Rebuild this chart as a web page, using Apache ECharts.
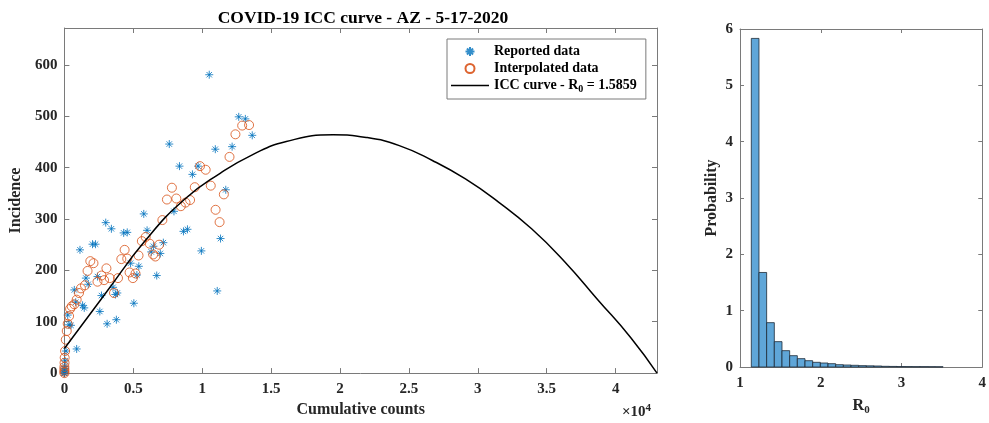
<!DOCTYPE html>
<html>
<head>
<meta charset="utf-8">
<script src="https://cdn.jsdelivr.net/npm/echarts@6/dist/echarts.min.js"></script>
<style>
  html, body { margin: 0; padding: 0; background: #fff; }
  #chart { width: 989px; height: 423px; }
</style>
</head>
<body>
<div id="chart"></div>
<script>
// Reported daily incidence vs. cumulative counts  [cumulative, incidence]
const reportedData = [
  [0,0],[0,0],[0,0],[0,0],[0,3],[10,6],[20,9],[30,13],[50,24],[120,43],[240,113],
  [340,94],[480,93],[720,162],[820,138],[890,47],[1130,240],[1320,132],[1440,127],
  [1560,185],[1730,173],[2040,251],[2260,251],[2400,188],[2570,120],[2690,151],
  [3000,293],[3100,96],[3410,281],[3530,167],[3700,153],[3770,104],[3840,156],
  [4300,273],[4560,274],[4800,214],[5040,136],[5260,191],[5400,208],[5760,310],
  [6000,278],[6300,236],[6460,247],[6700,190],[6960,233],[7180,254],[7610,446],
  [7950,315],[8350,403],[8640,276],[8930,280],[9290,387],[9700,403],[9940,238],
  [10510,581],[10950,436],[11090,160],[11330,262],[11710,357],[12170,441],
  [12650,499],[13130,495],[13630,463]
];

// Interpolated (smoothed) incidence  [cumulative, incidence]
const interpolatedData = [
  [0,0],[0,3],[0,7],[0,12],[10,20],[20,30],[50,43],[100,65],[170,82],[240,96],
  [340,111],[410,125],[530,130],[720,134],[890,143],[1060,156],[1200,165],
  [1490,171],[1680,199],[1880,218],[2110,214],[2400,178],[2690,190],[2880,181],
  [3050,204],[3290,185],[3600,156],[3890,185],[4130,222],[4370,240],[4560,223],
  [4730,196],[4970,185],[5160,194],[5380,229],[5620,257],[5900,265],[6190,252],
  [6440,231],[6600,227],[6870,250],[7110,298],[7440,338],[7800,361],[8120,340],
  [8450,325],[8790,332],[9120,337],[9460,362],[9840,403],[10250,396],[10620,365],
  [10970,318],[11260,294],[11570,348],[11980,421],[12410,465],[12900,482],[13400,483]
];

// Fitted ICC curve samples  [cumulative, incidence]
const iccCurve = [
  [0,48],[3000,156],[5900,259],[8700,338],[11300,389],[13700,426],[16100,451],
  [19500,464],[21900,459],[24300,443],[26700,414],[29100,378],[31500,333],
  [33900,281],[36300,217],[38700,143],[41100,69],[43000,0]
];
const r0Estimate = '1.5859';

// Histogram of R0 samples (probability density)
const r0BinEdges = [
  1.14,1.235,1.33,1.425,1.52,1.615,1.71,1.805,1.90,1.995,2.09,2.185,2.28,
  2.375,2.47,2.565,2.66,2.755,2.85,2.945,3.04,3.135,3.23,3.325,3.42,3.515
];
const r0Density = [
  5.833,1.678,0.787,0.450,0.290,0.201,0.148,0.112,0.083,0.071,0.059,0.041,
  0.035,0.030,0.024,0.021,0.018,0.012,0.010,0.008,0.007,0.006,0.006,0.005,0.004
];

const FONT = 'Liberation Serif, Times New Roman, serif';
const AXIS_COLOR = '#7a7a7a';
const LABEL_COLOR = '#262626';

const histBars = r0Density.map((h, i) => [r0BinEdges[i], r0BinEdges[i + 1], h]);

// Asterisk marker: plus + cross
const asterisk = 'path://M0,5L10,5M5,0L5,10M1.6,1.6L8.4,8.4M8.4,1.6L1.6,8.4';
// Plain line swatch for the curve's legend entry
const lineSwatch = 'path://M0,0L38,0L38,1.5L0,1.5Z';

function mainAxis(extra) {
  return Object.assign({
    type: 'value',
    splitLine: { show: false },
    axisLine: { show: true, onZero: false, lineStyle: { color: AXIS_COLOR, width: 1 } },
    axisTick: { show: true, inside: true, length: 5, lineStyle: { color: AXIS_COLOR } },
    axisLabel: { color: LABEL_COLOR, fontFamily: FONT, fontWeight: 'bold', fontSize: 15 },
    nameTextStyle: { color: LABEL_COLOR, fontFamily: FONT, fontWeight: 'bold', fontSize: 16 }
  }, extra);
}
function boxAxis(extra) {
  return Object.assign({
    type: 'value',
    splitLine: { show: false },
    axisLine: { show: true, onZero: false, lineStyle: { color: AXIS_COLOR, width: 1 } },
    axisTick: { show: true, inside: true, length: 5, lineStyle: { color: AXIS_COLOR } },
    axisLabel: { show: false }
  }, extra);
}

const chart = echarts.init(document.getElementById('chart'), null, { renderer: 'canvas' });

chart.setOption({
  animation: false,
  backgroundColor: '#fff',
  title: {
    text: 'COVID-19 ICC curve - AZ - 5-17-2020',
    left: 358, top: 4, textAlign: 'center',
    textStyle: { fontFamily: FONT, fontWeight: 'bold', fontSize: 17.5, color: '#000' }
  },
  grid: [
    { left: 59, top: 28, width: 598, height: 347.5 },
    { left: 740, top: 29, width: 245, height: 338 }
  ],
  xAxis: [
    mainAxis({
      gridIndex: 0, position: 'bottom', min: 0, max: 43000, interval: 5000,
      name: 'Cumulative counts', nameLocation: 'middle', nameGap: 27,
      axisLabel: {
        color: LABEL_COLOR, fontFamily: FONT, fontWeight: 'bold', fontSize: 15, margin: 9,
        showMaxLabel: false,
        formatter: v => String(v / 10000)
      }
    }),
    boxAxis({ gridIndex: 0, position: 'top', min: 0, max: 43000, interval: 5000 }),
    mainAxis({
      gridIndex: 1, position: 'bottom', min: 1, max: 4, interval: 1,
      name: 'R{sub|0}', nameLocation: 'middle', nameGap: 25,
      axisTick: { show: true, inside: true, length: 4, lineStyle: { color: AXIS_COLOR } },
      axisLabel: { color: LABEL_COLOR, fontFamily: FONT, fontWeight: 'bold', fontSize: 15, margin: 9 },
      nameTextStyle: {
        color: LABEL_COLOR, fontFamily: FONT, fontWeight: 'bold', fontSize: 16, lineHeight: 20,
        rich: { sub: { fontFamily: FONT, fontWeight: 'bold', fontSize: 11, lineHeight: 9, verticalAlign: 'bottom', color: LABEL_COLOR } }
      }
    }),
    boxAxis({ gridIndex: 1, position: 'top', min: 1, max: 4, interval: 1,
      axisTick: { show: true, inside: true, length: 4, lineStyle: { color: AXIS_COLOR } } })
  ],
  yAxis: [
    mainAxis({
      gridIndex: 0, position: 'left', min: 0, max: 672, interval: 100,
      name: 'Incidence', nameLocation: 'middle', nameGap: 37,
      axisLabel: { color: LABEL_COLOR, fontFamily: FONT, fontWeight: 'bold', fontSize: 15, margin: 7, showMaxLabel: false }
    }),
    boxAxis({ gridIndex: 0, position: 'right', min: 0, max: 672, interval: 100 }),
    mainAxis({
      gridIndex: 1, position: 'left', min: 0, max: 6, interval: 1,
      name: 'Probability', nameLocation: 'middle', nameGap: 20,
      axisTick: { show: true, inside: true, length: 4, lineStyle: { color: AXIS_COLOR } },
      axisLabel: { color: LABEL_COLOR, fontFamily: FONT, fontWeight: 'bold', fontSize: 15, margin: 7 }
    }),
    boxAxis({ gridIndex: 1, position: 'right', min: 0, max: 6, interval: 1,
      axisTick: { show: true, inside: true, length: 4, lineStyle: { color: AXIS_COLOR } } })
  ],
  legend: {
    data: ['Reported data', 'Interpolated data', { name: 'ICC curve', icon: lineSwatch }],
    orient: 'vertical',
    left: 447, top: 39,
    itemWidth: 38, itemHeight: 9, itemGap: 0,
    padding: [4, 9, 5, 4],
    borderColor: '#7a7a7a', borderWidth: 1, backgroundColor: '#fff',
    selectedMode: false,
    formatter: name => name === 'ICC curve' ? 'ICC curve - R{sub|0} = ' + r0Estimate : name,
    textStyle: {
      fontFamily: FONT, fontWeight: 'bold', fontSize: 14, color: '#000', lineHeight: 17,
      rich: { sub: { fontFamily: FONT, fontWeight: 'bold', fontSize: 10, lineHeight: 7, verticalAlign: 'bottom', color: '#000' } }
    }
  },
  graphic: [
    {
      type: 'text', left: 622, top: 403,
      style: {
        text: '×10{sup|4}',
        font: 'bold 15px ' + FONT, fill: LABEL_COLOR,
        rich: { sup: { font: 'bold 11px ' + FONT, fill: LABEL_COLOR, verticalAlign: 'top', lineHeight: 10 } },
        lineHeight: 19
      }
    }
  ],
  series: [
    {
      name: 'Reported data', type: 'scatter', xAxisIndex: 0, yAxisIndex: 0,
      data: reportedData, symbol: asterisk, symbolSize: 8,
      itemStyle: { color: 'rgba(0,0,0,0)', borderColor: '#0072BD', borderWidth: 1 }
    },
    {
      name: 'Interpolated data', type: 'scatter', xAxisIndex: 0, yAxisIndex: 0,
      data: interpolatedData, symbol: 'circle', symbolSize: 9,
      itemStyle: { color: 'rgba(0,0,0,0)', borderColor: '#D95319', borderWidth: 0.9, opacity: 0.9 }
    },
    {
      name: 'ICC curve', type: 'line', xAxisIndex: 0, yAxisIndex: 0,
      data: iccCurve, symbol: 'none', smooth: true,
      lineStyle: { color: '#000', width: 1.5 }, itemStyle: { color: '#000' }
    },
    {
      name: 'R0 histogram', type: 'custom', xAxisIndex: 2, yAxisIndex: 2,
      data: histBars,
      encode: { x: [0, 1], y: 2 },
      renderItem: (params, api) => {
        const p0 = api.coord([api.value(0), api.value(2)]);
        const p1 = api.coord([api.value(1), 0]);
        return {
          type: 'rect',
          shape: { x: p0[0], y: p0[1], width: p1[0] - p0[0], height: p1[1] - p0[1] },
          style: { fill: '#5fa6d8', stroke: '#1d2a36', lineWidth: 0.8 }
        };
      }
    }
  ]
});
</script>
</body>
</html>
